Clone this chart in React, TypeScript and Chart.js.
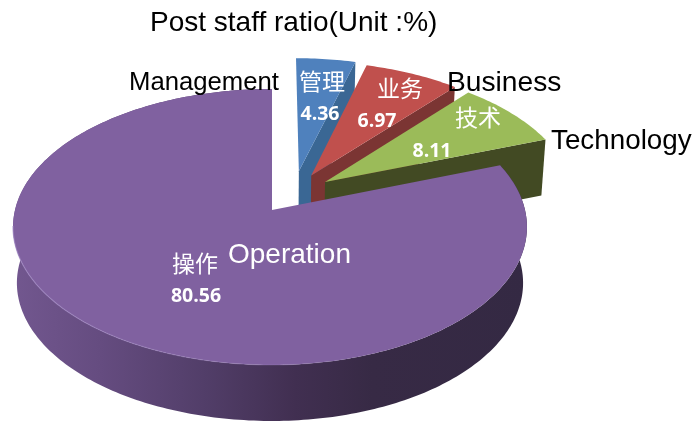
import React, { useEffect, useRef } from "react";
import { Chart, registerables } from "chart.js";

Chart.register(...registerables);

const titleText = "Post staff ratio(Unit :%)";
const namesEn = ["Management", "Business", "Technology", "Operation"];
const namesZh = ["管理", "业务", "技术", "操作"];
const values = [4.36, 6.97, 8.11, 80.56];

// appearance only
const faceColors = ["#4F81BD", "#C0504D", "#9BBB59", "#8061A0"];
const wallColors = ["#3A6794", "#7B3533", "#424A23", "#5A4478"];
const explode: [number, number][] = [[0.11, -0.295], [0.16, -0.262], [0.215, -0.211], [0, 0]];
const enPos: [number, number][] = [[129, 90], [447, 91], [551, 149], [228, 263]];
const enSize = [25.7, 28.2, 27.8, 28];
const zhPos: [number, number][] = [[322, 83], [400, 90], [478, 119], [195, 265]];
const numPos: [number, number][] = [[320, 120], [377, 127], [432, 157], [196, 302]];

// perspective projection of the pie's plane onto the page
const VX = 272, VY = 210, P = -0.123, B = 135.9;
function project(u: number, v: number): [number, number] {
  const w = 1 + P * v;
  const a = u < 0 ? 257 : 253;
  return [VX + (a * u) / w, VY + (B * v) / w];
}
function lower(p: [number, number]): [number, number] {
  return [270 + (p[0] - 270) * 0.985, p[1] + 56];
}
function rim(start: number, end: number, off: [number, number]) {
  const pts: [number, number][] = [];
  const n = Math.max(2, Math.ceil((end - start) / (Math.PI / 180)));
  for (let i = 0; i <= n; i++) {
    const t = start + ((end - start) * i) / n + Math.PI / 2;
    pts.push(project(off[0] + Math.sin(t), off[1] - Math.cos(t)));
  }
  return pts;
}
function poly(ctx: CanvasRenderingContext2D, pts: [number, number][]) {
  ctx.beginPath();
  pts.forEach((p, i) => (i ? ctx.lineTo(p[0], p[1]) : ctx.moveTo(p[0], p[1])));
  ctx.closePath();
}

const pie3d = {
  id: "pie3d",
  beforeDatasetDraw(chart: any) {
    const ctx: CanvasRenderingContext2D = chart.ctx;
    const arcs = chart.getDatasetMeta(0).data;
    ctx.save();
    arcs.forEach((arc: any, i: number) => {
      const { startAngle, endAngle } = arc.getProps(["startAngle", "endAngle"], true);
      const off = explode[i];
      const vertex = project(off[0], off[1]);
      const pts = rim(startAngle, endAngle, off);
      if (i < 3) {
        const end = pts[pts.length - 1];
        poly(ctx, [vertex, end, lower(end), lower(vertex)]);
        ctx.fillStyle = wallColors[i];
        ctx.fill();
      } else {
        const g = ctx.createLinearGradient(13, 0, 526, 0);
        g.addColorStop(0, "#72578F");
        g.addColorStop(0.17, "#654C80");
        g.addColorStop(0.37, "#523E69");
        g.addColorStop(0.55, "#412F51");
        g.addColorStop(0.7, "#372A45");
        g.addColorStop(1, "#342943");
        poly(ctx, [...pts, ...pts.slice().reverse().map(lower)]);
        ctx.fillStyle = g;
        ctx.fill();
      }
      poly(ctx, [vertex, ...pts]);
      ctx.fillStyle = faceColors[i];
      ctx.fill();
      if (i === 3) {
        const h = ctx.createLinearGradient(13, 0, 400, 0);
        h.addColorStop(0, "rgba(160,135,195,0.7)");
        h.addColorStop(1, "rgba(160,135,195,0)");
        const front = pts.filter((p) => p[1] > 225);
        ctx.beginPath();
        front.forEach((p, k) => (k ? ctx.lineTo(p[0], p[1]) : ctx.moveTo(p[0], p[1])));
        ctx.strokeStyle = h;
        ctx.lineWidth = 1.2;
        ctx.stroke();
      }
    });
    ctx.restore();
    return false;
  },
  afterDatasetsDraw(chart: any) {
    const ctx: CanvasRenderingContext2D = chart.ctx;
    ctx.save();
    ctx.textBaseline = "alphabetic";
    namesEn.forEach((t, i) => {
      ctx.textAlign = "left";
      ctx.font = `${enSize[i]}px "Liberation Sans"`;
      ctx.fillStyle = i === 3 ? "#FFFFFF" : "#000000";
      ctx.fillText(t, enPos[i][0], enPos[i][1]);
    });
    ctx.fillStyle = "#FFFFFF";
    ctx.textAlign = "center";
    namesZh.forEach((t, i) => {
      ctx.font = '23px "Noto Sans CJK SC"';
      ctx.fillText(t, zhPos[i][0], zhPos[i][1] + 7);
    });
    values.forEach((v, i) => {
      ctx.font = 'bold 19.5px "Open Sans"';
      ctx.fillText(v.toFixed(2), numPos[i][0], numPos[i][1]);
    });
    ctx.restore();
  },
};

export default function App() {
  const ref = useRef<HTMLCanvasElement>(null);
  useEffect(() => {
    const chart = new Chart(ref.current!, {
      type: "pie",
      data: {
        labels: namesEn,
        datasets: [{ data: values, backgroundColor: faceColors, borderWidth: 0 }],
      },
      options: {
        responsive: false,
        animation: false,
        layout: { padding: { left: 150, top: 6 } },
        plugins: {
          legend: { display: false },
          tooltip: { enabled: false },
          title: {
            display: true,
            text: titleText,
            align: "start",
            color: "#000000",
            font: { family: '"Liberation Sans"', size: 28, weight: "normal" },
            padding: 0,
          },
        },
      },
      plugins: [pie3d],
    } as any);
    return () => chart.destroy();
  }, []);
  return (
    <div style={{ position: "fixed", left: 0, top: 0, width: 693, height: 421, background: "#fff" }}>
      <canvas ref={ref} width={693} height={421} style={{ display: "block" }} />
    </div>
  );
}
